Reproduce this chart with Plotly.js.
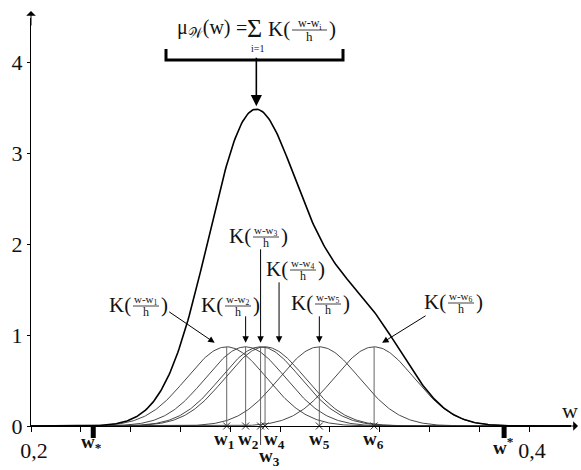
<!DOCTYPE html>
<html>
<head>
<meta charset="utf-8">
<script src="https://cdn.plot.ly/plotly-3.0.1.min.js"></script>
<style>
  html, body { margin: 0; padding: 0; background: #fff; }
  #chart { width: 581px; height: 470px; }
</style>
</head>
<body>
<div id="chart"></div>
<script>
// Kernel centres w_i of the six observations
const centers = [0.2786, 0.2862, 0.2922, 0.2940, 0.3158, 0.3378];
const centerLabels = ['w<sub>1</sub>', 'w<sub>2</sub>', 'w<sub>3</sub>', 'w<sub>4</sub>', 'w<sub>5</sub>', 'w<sub>6</sub>'];
// Bandwidth h and the peak height of one kernel K(0)
const bandwidth = 0.0161;
const kernelPeak = 0.87;
// Support bounds w_* and w^*
const boundLow = 0.225;
const boundHigh = 0.39;
// Axis ticks
const xTickVals = [0.2, 0.4];
const xTickText = ['0,2', '0,4'];
const xTickStep = 0.02;
const yTickVals = [0, 1, 2, 3, 4];
const yTickText = ['0', '1', '2', '3', '4'];

// ---- layout geometry (pixels) ----
const M = { l: 31, r: 10, t: 18, b: 44 };
const W = 581, H = 470;
const plotW = W - M.l - M.r, plotH = H - M.t - M.b;
const pxPerX = 2490, pxPerY = 91;
const xRange = [0.2, 0.2 + plotW / pxPerX];
const yRange = [0, plotH / pxPerY];
const axisY = H - M.b;
// pixel -> coordinate helpers for placing text
const px2x = px => 0.2 + (px - M.l) / pxPerX;
const py2y = py => (axisY - py) / pxPerY;
const py2p = py => (axisY - py) / plotH;

const SERIF = 'Liberation Serif, Times New Roman, serif';
const INK = '#111';

// evaluation grid along w
const xs = [];
for (let i = 0; i <= 440; i++) xs.push(+(0.2 + i * 0.0005).toFixed(5));

const K = u => kernelPeak * Math.exp(-0.5 * u * u);
const kernels = centers.map(c => xs.map(x => K((x - c) / bandwidth)));
const total = xs.map((_, j) => kernels.reduce((s, k) => s + k[j], 0));

const traces = [];
kernels.forEach(ys => {
  traces.push({
    x: xs, y: ys, type: 'scatter', mode: 'lines',
    line: { color: '#333', width: 0.9 }, hoverinfo: 'skip', showlegend: false
  });
});
traces.push({
  x: xs, y: total, type: 'scatter', mode: 'lines',
  line: { color: '#000', width: 1.6 }, hoverinfo: 'skip', showlegend: false
});
// vertical stems at each w_i up to the kernel peak
const stemX = [], stemY = [];
centers.forEach(c => { stemX.push(c, c, null); stemY.push(0, K(0), null); });
traces.push({
  x: stemX, y: stemY, type: 'scatter', mode: 'lines',
  line: { color: '#555', width: 0.9 }, hoverinfo: 'skip', showlegend: false
});
// crosses on the axis at each w_i
traces.push({
  x: centers, y: centers.map(() => 0), type: 'scatter', mode: 'markers',
  marker: { symbol: 'x-thin-open', size: 7, color: '#333', line: { color: '#333', width: 1 } },
  cliponaxis: false, hoverinfo: 'skip', showlegend: false
});

// peak of the summed curve
let peakIdx = 0;
total.forEach((v, j) => { if (v > total[peakIdx]) peakIdx = j; });

const annotations = [];
const shapes = [];

function txt(px, py, text, size, anchor, extra) {
  annotations.push(Object.assign({
    x: px2x(px), y: py2y(py), xref: 'x', yref: 'y', text: text, showarrow: false,
    xanchor: anchor || 'center', yanchor: 'middle', borderpad: 0,
    font: { family: SERIF, size: size, color: INK }
  }, extra || {}));
}

// K((w - w_i)/h) with a stacked fraction; L = left edge of "K(", cy = vertical centre
function kernelLabel(L, cy, sub, opts) {
  const o = Object.assign({ big: 21, small: 11, fw: 28, num: 'w-w' }, opts || {});
  txt(L, cy, 'K(', o.big, 'left');
  const fracL = L + 24, fracR = fracL + o.fw, mid = (fracL + fracR) / 2;
  txt(mid, cy - 5, o.num + '<sub>' + sub + '</sub>', o.small);
  shapes.push({
    type: 'line', xref: 'x', yref: 'y',
    x0: px2x(fracL + 1), x1: px2x(fracR - 1), y0: py2y(cy + 1), y1: py2y(cy + 1),
    line: { color: INK, width: 0.8 }
  });
  txt(mid, cy + 7, 'h', o.small + 1);
  txt(fracR, cy, ')', o.big, 'left');
}

// formula on top
txt(176, 28, 'μ<sub>𝒲</sub>(w)', 20, 'left');
txt(241, 28, '=', 20);
txt(254, 28, 'Σ', 26);
txt(257, 10, '6', 10);
txt(257, 48, 'i=1', 10);
kernelLabel(267, 29, 'i', { fw: 37, small: 12 });
// bracket under the formula
shapes.push({
  type: 'path', xref: 'x', yref: 'y',
  path: `M ${px2x(166)} ${py2y(49)} L ${px2x(166)} ${py2y(60)} L ${px2x(343)} ${py2y(60)} L ${px2x(343)} ${py2y(49)}`,
  line: { color: '#000', width: 3 }
});
// arrow from bracket to peak of the sum
annotations.push({
  x: xs[peakIdx], y: total[peakIdx] + 3 / pxPerY, xref: 'x', yref: 'y',
  showarrow: true, ax: 0, ay: -50, text: '',
  arrowhead: 2, arrowsize: 1.4, arrowwidth: 1.6, arrowcolor: '#000'
});

// kernel labels and their arrows
const kLabelPos = [
  [108, 305], [200, 305], [228, 236], [265, 269], [290, 303], [423, 302]
];
const kArrow = [ // tip offset from w_i (px), tip lift (px), tail offset ax, ay
  [-12, 3, -47, -32], [0, 4, 0, -28], [0, 4, 0, -95],
  [14, 4, 0, -62], [0, 4, 0, -28], [8, 4, 45, -28]
];
centers.forEach((c, i) => {
  kernelLabel(kLabelPos[i][0], kLabelPos[i][1], String(i + 1));
  const a = kArrow[i];
  const tipX = c + a[0] / pxPerX;
  const tipY = K((tipX - c) / bandwidth) + a[1] / pxPerY;
  annotations.push({
    x: tipX, y: Math.max(tipY, K(0) + 4 / pxPerY), xref: 'x', yref: 'y',
    showarrow: true, ax: a[2], ay: a[3], text: '',
    arrowhead: 2, arrowsize: 1.3, arrowwidth: 1, arrowcolor: '#000'
  });
});

// labels under the axis (paper-referenced so they sit below the plotting area)
function below(x, py, text, xshift) {
  annotations.push({
    x: x, y: py2p(py), xref: 'x', yref: 'paper', xshift: xshift || 0,
    text: text, showarrow: false, xanchor: 'center', yanchor: 'middle', borderpad: 0,
    font: { family: SERIF, size: 19, color: INK }
  });
}
const wShift = [-3, 3, 9, 9, 0, -1];
const wRowPy = [440, 440, 457, 440, 440, 440];
centers.forEach((c, i) => below(c, wRowPy[i], '<b>' + centerLabels[i] + '</b>', wShift[i]));
// w3 leader below the axis
shapes.push({
  type: 'line', xref: 'x', yref: 'paper', x0: centers[2], x1: centers[2],
  y0: 0, y1: -19 / plotH, line: { color: '#444', width: 1 }
});
// bounds w_* and w^*
[boundLow, boundHigh].forEach(b => {
  shapes.push({
    type: 'line', xref: 'x', yref: 'paper', x0: b, x1: b,
    y0: 0, y1: -12 / plotH, line: { color: '#000', width: 5 }
  });
});
below(boundLow, 443, '<b>w<sub>*</sub></b>', -2);
below(boundHigh, 446, '<b>w<sup>*</sup></b>', -1);

// axis arrows and titles
annotations.push({
  x: (578 - M.l) / plotW, y: 0, xref: 'paper', yref: 'paper',
  showarrow: true, ax: -20, ay: 0, text: '',
  arrowhead: 1, arrowsize: 1.6, arrowwidth: 1, arrowcolor: '#000'
});
annotations.push({
  x: 0, y: 1 + (M.t - 11) / plotH, xref: 'paper', yref: 'paper',
  showarrow: true, ax: 0, ay: 16, text: '',
  arrowhead: 1, arrowsize: 1.6, arrowwidth: 1, arrowcolor: '#000'
});
txt(570, 410, 'w', 22);
txt(35, 15, 'μ<sub>𝒲</sub>(w)', 20, 'left');

const layout = {
  width: W, height: H,
  margin: M,
  paper_bgcolor: '#fff', plot_bgcolor: '#fff',
  showlegend: false,
  xaxis: {
    range: xRange, showgrid: false, zeroline: false,
    showline: true, linecolor: '#000', linewidth: 1,
    ticks: 'outside', ticklen: 5, tickwidth: 1, tickcolor: '#000',
    tickvals: xTickVals, ticktext: xTickText, ticklabelshift: 3,
    minor: { tick0: 0.2, dtick: xTickStep, ticks: 'outside', ticklen: 5, tickwidth: 1, tickcolor: '#000', showgrid: false },
    tickfont: { family: SERIF, size: 22, color: INK }
  },
  yaxis: {
    range: yRange, showgrid: false, zeroline: false,
    showline: true, linecolor: '#000', linewidth: 1,
    ticks: 'outside', ticklen: 3, tickwidth: 1, tickcolor: '#000',
    tickvals: yTickVals, ticktext: yTickText,
    tickfont: { family: SERIF, size: 22, color: INK }
  },
  annotations: annotations,
  shapes: shapes
};

Plotly.newPlot('chart', traces, layout, { staticPlot: true, displayModeBar: false });
</script>
</body>
</html>
